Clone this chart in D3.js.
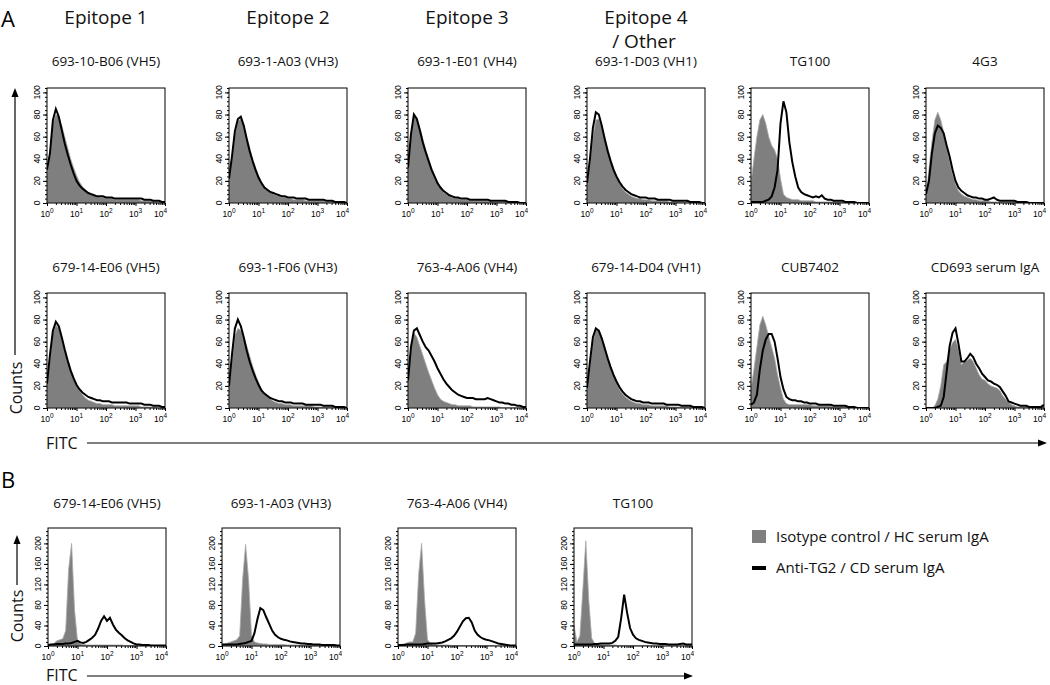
<!DOCTYPE html>
<html><head><meta charset="utf-8">
<script src="https://cdn.jsdelivr.net/npm/d3@7"></script>
<style>body{margin:0;background:#fff}svg{display:block}</style>
</head><body>
<svg id="chart" width="1050" height="685"></svg>
<script>
// ---------- labels ----------
const sectionLabels = ["A", "B"];
const epitopeLabels = ["Epitope 1", "Epitope 2", "Epitope 3", "Epitope 4"];
const epitopeSubLabel = "/ Other";
const titlesA1 = ["693-10-B06 (VH5)", "693-1-A03 (VH3)", "693-1-E01 (VH4)", "693-1-D03 (VH1)", "TG100", "4G3"];
const titlesA2 = ["679-14-E06 (VH5)", "693-1-F06 (VH3)", "763-4-A06 (VH4)", "679-14-D04 (VH1)", "CUB7402", "CD693 serum IgA"];
const titlesB = ["679-14-E06 (VH5)", "693-1-A03 (VH3)", "763-4-A06 (VH4)", "TG100"];
const legendLabels = ["Isotype control / HC serum IgA", "Anti-TG2 / CD serum IgA"];
const xAxisLabel = "FITC";
const yAxisLabel = "Counts";
const xTickExp = [0, 1, 2, 3, 4];
const yTicksA = [0, 20, 40, 60, 80, 100];
const yTicksB = [0, 40, 80, 120, 160, 200];

// FITC channel positions (log10 of intensity)
const fitcLog = [0.0,0.1,0.2,0.3,0.4,0.5,0.6,0.7,0.8,0.9,1.0,1.1,1.2,1.3,1.4,1.5,1.6,1.7,1.8,1.9,2.0,
                 2.1,2.2,2.3,2.4,2.5,2.6,2.7,2.8,2.9,3.0,3.1,3.2,3.3,3.4,3.5,3.6,3.7,3.8,3.9,4.0];

// ---------- panel A, row 1 ----------
const gray_693_10_B06 = [25,45,72,80,78,70,60,50,40,32,25,19,15,12,9,8,7,6,5,5,4,4,4,3,3,3,3,3,3,3,3,3,2,2,2,2,2,1,1,1,1];
const black_693_10_B06 = [30,45,75,85,78,66,54,44,35,27,20,16,13,11,9,8,7,6,6,6,5,5,5,4,4,4,4,4,4,4,4,4,4,3,3,3,2,2,2,1,1];
const gray_693_1_A03 = [20,40,62,74,76,70,60,50,40,32,25,19,15,12,10,8,7,6,5,5,4,4,3,3,3,3,2,2,2,2,2,2,2,1,1,1,1,1,1,0,0];
const black_693_1_A03 = [22,42,65,76,78,70,58,47,38,30,23,18,14,12,10,9,8,7,6,6,5,5,5,4,4,4,4,3,3,3,3,3,3,2,2,2,1,1,1,1,0];
const gray_693_1_E01 = [30,60,78,76,68,58,48,40,32,25,19,14,10,8,6,5,4,4,3,3,3,2,2,2,2,2,2,2,2,1,1,1,1,1,1,1,0,0,0,0,0];
const black_693_1_E01 = [32,62,80,76,66,55,46,38,30,24,18,14,11,9,7,6,5,5,4,4,4,3,3,3,3,3,3,3,2,2,2,2,2,2,1,1,1,1,0,0,0];
const gray_693_1_D03 = [15,35,60,75,76,70,60,50,40,32,24,18,13,10,8,6,5,4,4,3,3,3,2,2,2,2,2,2,1,1,1,1,1,1,1,1,1,0,0,0,0];
const black_693_1_D03 = [18,40,68,82,80,70,58,47,38,30,24,19,15,12,10,8,7,6,5,5,5,4,4,4,3,3,3,3,3,2,2,2,2,2,2,1,1,1,1,0,0];
const gray_TG100_A = [18,40,60,75,80,72,60,52,48,40,22,8,5,4,3,3,3,2,2,2,2,2,1,1,1,1,1,1,1,1,1,1,1,0,0,0,0,0,0,0,0];
const black_TG100_A = [1,1,1,1,1,2,3,6,14,30,72,92,82,55,37,24,14,10,8,7,6,5,6,5,7,4,3,3,2,2,2,2,1,1,1,1,0,0,0,0,0];
const gray_4G3 = [5,30,55,75,82,75,64,50,38,26,17,11,8,6,5,4,3,3,2,2,2,2,1,1,1,1,1,1,1,1,1,0,0,0,0,0,0,0,0,0,0];
const black_4G3 = [8,20,45,63,70,68,63,52,42,30,20,14,11,9,7,6,5,5,4,4,3,3,4,5,3,2,2,2,2,2,2,1,1,1,1,0,0,0,0,0,0];

// ---------- panel A, row 2 ----------
const gray_679_14_E06 = [20,45,68,75,72,64,54,44,35,28,21,16,12,9,7,6,5,4,4,3,3,3,3,2,2,2,2,2,2,2,2,2,1,1,1,1,1,1,0,0,0];
const black_679_14_E06 = [22,48,70,78,74,64,53,43,34,27,21,17,14,12,10,9,8,7,7,6,6,6,5,5,5,5,5,5,4,4,4,4,4,3,3,3,2,2,2,1,1];
const gray_693_1_F06 = [18,42,65,72,70,64,56,47,38,30,23,17,13,10,8,6,5,4,4,3,3,3,2,2,2,2,2,2,2,1,1,1,1,1,1,1,0,0,0,0,0];
const black_693_1_F06 = [20,48,72,80,74,64,52,42,34,27,21,16,13,11,9,8,7,6,6,5,5,5,4,4,4,4,3,3,3,3,3,3,2,2,2,2,1,1,1,1,0];
const gray_763_4_A06 = [25,55,68,64,56,48,40,32,25,18,12,8,6,5,4,3,3,2,2,2,2,2,1,1,1,1,1,1,1,1,1,1,0,0,0,0,0,0,0,0,0];
const black_763_4_A06 = [25,55,70,72,66,60,55,52,47,42,36,31,26,22,19,16,14,12,11,10,9,9,9,8,8,8,8,9,8,7,6,5,5,4,4,3,3,2,2,1,1];
const gray_679_14_D04 = [15,38,60,70,70,64,56,47,38,30,23,17,13,10,8,6,5,4,4,3,3,3,2,2,2,2,2,2,1,1,1,1,1,1,1,1,0,0,0,0,0];
const black_679_14_D04 = [18,42,64,72,70,63,54,45,37,30,24,19,15,12,10,8,7,6,6,5,5,5,4,4,4,4,4,3,3,3,3,3,2,2,2,2,1,1,1,1,0];
const gray_CUB7402 = [17,35,55,75,83,75,65,55,45,30,18,8,4,3,3,3,3,3,3,3,3,2,2,2,2,2,2,2,1,1,1,1,1,1,0,0,0,0,0,0,0];
const black_CUB7402 = [3,5,12,35,52,62,67,67,60,45,28,17,10,8,7,7,6,6,5,5,4,4,4,3,3,3,3,3,2,2,2,2,2,1,1,1,0,0,0,0,0];
const gray_CD693 = [0,0,0,2,8,20,39,42,53,59,62,53,39,42,43,45,42,36,30,26,25,22,20,19,18,16,11,8,5,3,2,1,1,1,1,1,1,1,1,1,1];
const black_CD693 = [0,0,0,0,1,2,10,33,56,68,72,58,42,42,45,49,46,40,36,31,28,25,24,22,21,19,15,11,6,5,4,3,2,2,2,1,1,1,1,1,3];

// ---------- panel B ----------
const gray_B_679_14_E06 = [2,3,5,10,12,14,30,150,200,70,10,4,3,2,2,2,2,2,2,2,2,2,2,2,2,2,1,1,1,1,1,1,1,1,1,1,0,0,0,0,0];
const black_B_679_14_E06 = [2,3,3,4,4,4,5,5,6,8,10,7,6,8,12,16,22,34,49,58,49,55,42,32,26,21,15,11,8,5,3,3,2,2,2,1,1,1,1,1,1];
const gray_B_693_1_A03 = [2,4,6,8,10,12,20,130,198,130,20,8,6,5,4,4,3,3,3,3,3,3,2,2,2,2,2,2,2,2,2,1,1,1,1,1,1,1,1,1,1];
const black_B_693_1_A03 = [3,3,3,3,3,3,4,5,6,8,10,25,52,74,70,56,43,30,22,17,14,12,11,9,8,7,6,5,5,4,4,3,3,3,2,2,2,2,2,1,1];
const gray_B_763_4_A06 = [2,3,4,6,8,8,25,140,200,90,12,5,3,2,2,2,2,2,1,1,1,1,1,1,1,1,1,1,1,1,1,1,1,0,0,0,0,0,0,0,0];
const black_B_763_4_A06 = [2,2,2,3,3,3,3,3,3,4,5,5,5,5,6,7,9,12,15,20,28,38,48,54,55,46,30,22,17,14,12,11,9,7,5,4,3,2,1,1,1];
const gray_B_TG100 = [40,8,20,110,205,90,15,5,3,3,2,2,2,2,2,1,1,1,1,1,1,1,1,1,1,1,0,0,0,0,0,0,0,0,0,0,0,0,0,0,0];
const black_B_TG100 = [3,3,3,3,3,3,3,4,4,5,5,5,5,6,10,18,55,100,65,35,22,15,12,10,8,7,6,5,5,4,4,4,3,3,3,3,4,5,3,3,3];

// ---------- drawing ----------
const svg = d3.select("#chart");
const FONT = "'Open Sans', 'Noto Sans', sans-serif";
const TFONT = "'Liberation Sans', Arial, sans-serif";
const GRAY = "#7f7f7f";

const grayA1 = [gray_693_10_B06, gray_693_1_A03, gray_693_1_E01, gray_693_1_D03, gray_TG100_A, gray_4G3];
const blackA1 = [black_693_10_B06, black_693_1_A03, black_693_1_E01, black_693_1_D03, black_TG100_A, black_4G3];
const grayA2 = [gray_679_14_E06, gray_693_1_F06, gray_763_4_A06, gray_679_14_D04, gray_CUB7402, gray_CD693];
const blackA2 = [black_679_14_E06, black_693_1_F06, black_763_4_A06, black_679_14_D04, black_CUB7402, black_CD693];
const grayB = [gray_B_679_14_E06, gray_B_693_1_A03, gray_B_763_4_A06, gray_B_TG100];
const blackB = [black_B_679_14_E06, black_B_693_1_A03, black_B_763_4_A06, black_B_TG100];

const leftsA = [47, 229, 408, 587, 751, 926];
const leftsB = [48, 222, 398, 574];
let clipId = 0;

function drawPanel(left, top, w, h, ymax, yTicks, minorStep, title, gray, black, titleGap) {
  const g = svg.append("g").attr("transform", `translate(${left},${top})`);
  const x = d3.scaleLog().domain([1, 1e4]).range([0, w]);
  const y = d3.scaleLinear().domain([0, ymax]).range([h, 0]);
  const id = "clip" + (clipId++);
  g.append("clipPath").attr("id", id).append("rect").attr("width", w).attr("height", h);
  const px = i => x(Math.pow(10, fitcLog[i]));
  const plot = g.append("g").attr("clip-path", `url(#${id})`);
  plot.append("path").datum(gray)
    .attr("d", d3.area().x((d, i) => px(i)).y0(h).y1(d => y(d)))
    .attr("fill", GRAY).attr("stroke", "#a9a9a9").attr("stroke-width", 0.8);
  plot.append("path").datum(black)
    .attr("d", d3.line().x((d, i) => px(i)).y(d => y(d)))
    .attr("fill", "none").attr("stroke", "#000").attr("stroke-width", 2).attr("stroke-linejoin", "miter");
  g.append("rect").attr("width", w).attr("height", h).attr("fill", "none")
    .attr("stroke", "#000").attr("stroke-width", 1);

  // x axis
  const minorX = [];
  for (let k = 0; k < 4; k++) for (let m = 2; m <= 9; m++) minorX.push(m * Math.pow(10, k));
  const xa = g.append("g").attr("transform", `translate(0,${h})`);
  xa.call(d3.axisBottom(x).tickValues(xTickExp.map(e => Math.pow(10, e))).tickSize(3).tickFormat(""));
  xa.append("g").call(d3.axisBottom(x).tickValues(minorX).tickSize(2).tickFormat(""));
  xa.selectAll(".domain").remove();
  xa.selectAll("line").attr("stroke", "#000");
  xTickExp.forEach((e, k) => {
    const last = k === xTickExp.length - 1;
    const t = g.append("text").attr("x", x(Math.pow(10, e)) + (last ? 2 : 0)).attr("y", h + 14)
      .attr("text-anchor", last ? "end" : "middle").attr("font-family", TFONT).attr("font-size", 8.5).attr("fill", "#000");
    t.append("tspan").text("10");
    t.append("tspan").attr("dy", -4).attr("font-size", 6.5).text(e);
  });

  // y axis
  const ya = g.append("g");
  ya.call(d3.axisLeft(y).tickValues(yTicks).tickSize(4).tickFormat(""));
  ya.append("g").call(d3.axisLeft(y).tickValues(d3.range(0, ymax + 0.01, minorStep)).tickSize(2).tickFormat(""));
  ya.selectAll(".domain").remove();
  ya.selectAll("line").attr("stroke", "#000");
  yTicks.forEach(v => {
    g.append("text").attr("transform", `translate(-7,${y(v)}) rotate(-90)`)
      .attr("text-anchor", "middle").attr("font-family", TFONT).attr("font-size", 8.5).attr("fill", "#000")
      .text(v);
  });

  g.append("text").attr("x", w / 2).attr("y", -titleGap).attr("text-anchor", "middle")
    .attr("font-family", FONT).attr("font-size", 13.5).attr("fill", "#111").text(title);
}

for (let i = 0; i < 6; i++) {
  drawPanel(leftsA[i], 88, 118, 115, 104, yTicksA, 4, titlesA1[i], grayA1[i], blackA1[i], 22);
  drawPanel(leftsA[i], 293, 118, 115, 104, yTicksA, 4, titlesA2[i], grayA2[i], blackA2[i], 21);
}
for (let i = 0; i < 4; i++) {
  drawPanel(leftsB[i], 528, 118, 118, 230, yTicksB, 8, titlesB[i], grayB[i], blackB[i], 20);
}

// section letters
svg.append("text").attr("x", 1).attr("y", 27).attr("font-family", FONT).attr("font-size", 22).text(sectionLabels[0]);
svg.append("text").attr("x", 1).attr("y", 488).attr("font-family", FONT).attr("font-size", 22).text(sectionLabels[1]);

// epitope headers
epitopeLabels.forEach((t, i) => {
  svg.append("text").attr("x", leftsA[i] + 59).attr("y", 24).attr("text-anchor", "middle")
    .attr("font-family", FONT).attr("font-size", 19).attr("fill", "#111").text(t);
});
svg.append("text").attr("x", leftsA[3] + 57).attr("y", 48).attr("text-anchor", "middle")
  .attr("font-family", FONT).attr("font-size", 19).attr("fill", "#111").text(epitopeSubLabel);

// axis arrows
function arrowV(xp, y0, y1) {
  svg.append("line").attr("x1", xp).attr("x2", xp).attr("y1", y0).attr("y2", y1 + 6).attr("stroke", "#000").attr("stroke-width", 1.2);
  svg.append("path").attr("d", `M${xp},${y1} L${xp - 3.5},${y1 + 9} L${xp + 3.5},${y1 + 9} Z`).attr("fill", "#000");
}
function arrowH(yp, x0, x1) {
  svg.append("line").attr("x1", x0).attr("x2", x1 - 6).attr("y1", yp).attr("y2", yp).attr("stroke", "#000").attr("stroke-width", 1.2);
  svg.append("path").attr("d", `M${x1},${yp} L${x1 - 9},${yp - 3.5} L${x1 - 9},${yp + 3.5} Z`).attr("fill", "#000");
}
arrowV(15, 355, 88);
arrowV(17, 585, 535);
arrowH(443, 87, 1047);
arrowH(676, 87, 693);

svg.append("text").attr("transform", "translate(22,388) rotate(-90)").attr("text-anchor", "middle")
  .attr("font-family", FONT).attr("font-size", 16).attr("fill", "#111").text(yAxisLabel);
svg.append("text").attr("transform", "translate(23,616) rotate(-90)").attr("text-anchor", "middle")
  .attr("font-family", FONT).attr("font-size", 16).attr("fill", "#111").text(yAxisLabel);
svg.append("text").attr("x", 46).attr("y", 449).attr("font-family", FONT).attr("font-size", 16).attr("fill", "#111").text(xAxisLabel);
svg.append("text").attr("x", 46).attr("y", 681).attr("font-family", FONT).attr("font-size", 16).attr("fill", "#111").text(xAxisLabel);

// legend
svg.append("rect").attr("x", 752).attr("y", 530).attr("width", 14).attr("height", 13).attr("fill", GRAY);
svg.append("rect").attr("x", 752).attr("y", 566).attr("width", 14).attr("height", 4).attr("fill", "#000");
svg.append("text").attr("x", 776).attr("y", 542).attr("font-family", FONT).attr("font-size", 15).attr("fill", "#111").text(legendLabels[0]);
svg.append("text").attr("x", 776).attr("y", 573).attr("font-family", FONT).attr("font-size", 15).attr("fill", "#111").text(legendLabels[1]);
</script>
</body></html>
